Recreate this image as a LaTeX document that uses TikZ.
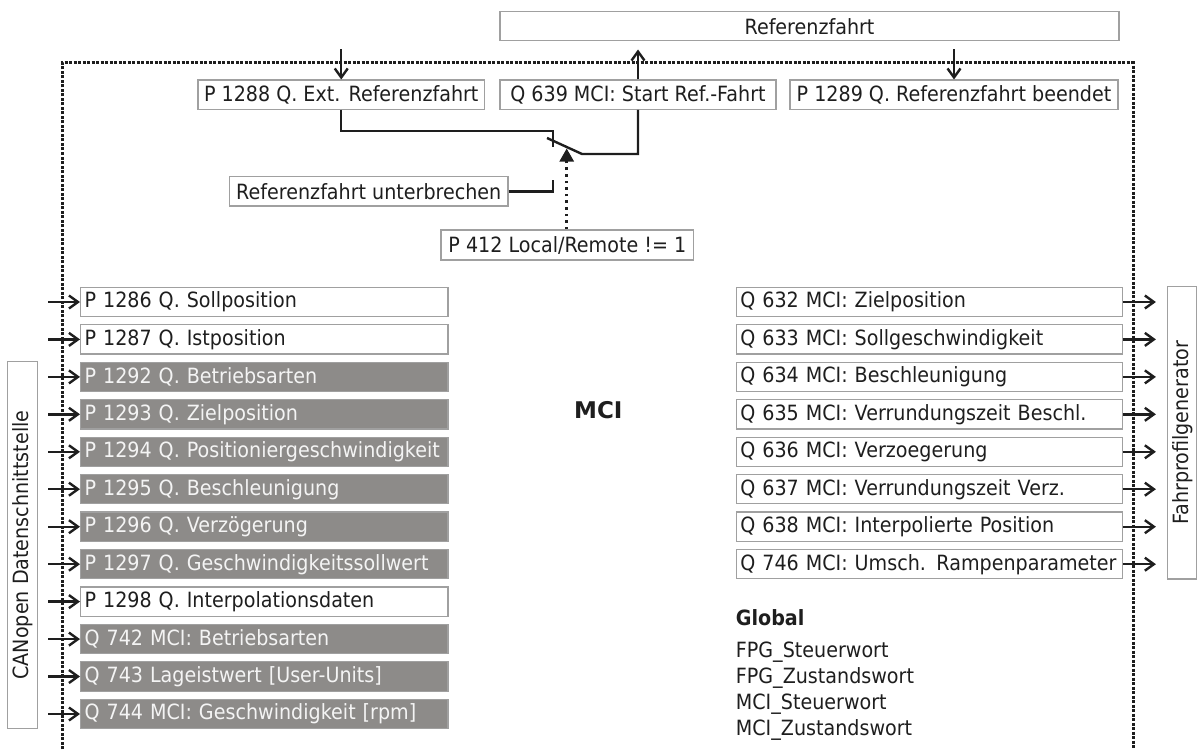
\documentclass[tikz,border=0pt]{standalone}
\usepackage{fontspec}
\setmainfont[FakeStretch=0.91]{DejaVu Sans}
\newfontfamily\mcifont{DejaVu Sans}
\usetikzlibrary{arrows.meta}
\definecolor{ink}{RGB}{30,30,30}
\definecolor{boxline}{RGB}{160,160,160}
\definecolor{boxgray}{RGB}{141,139,137}
\definecolor{boxtext}{RGB}{244,244,244}

\begin{document}
\begin{tikzpicture}[x=1pt,y=-1pt,
  font=\fontsize{21}{26}\selectfont, text=ink,
  box/.style={draw=boxline,line width=1.2pt,inner xsep=4pt,inner ysep=0pt,minimum height=29.3pt},
  inbox/.style={box,anchor=west,text width=359.3pt,align=left},
  outbox/.style={box,anchor=west,text width=378pt,align=left},
  darkfill/.style={fill=boxgray,text=boxtext},
  wire/.style={draw=ink,line width=2.4pt},
  sig/.style={wire,-{Straight Barb[length=9pt,width=13pt]}},
  ctrl/.style={draw=ink,line width=2.6pt,dash pattern=on 2.6pt off 4pt,-{Triangle[length=13pt,width=14pt]}},
  frame/.style={draw=ink,line width=3pt,dash pattern=on 3pt off 1.5pt}]
\useasboundingbox (0,0) rectangle (1198,749);

\draw[frame] (62,749) -- (62,63) -- (1133,63) -- (1133,749);

\node[box,minimum width=619pt,minimum height=29pt] (ref) at (809.5,26.2) {Referenzfahrt};
\node[box,minimum width=286.5pt] (p1288) at (341.25,94.75) {P 1288 Q. Ext. Referenzfahrt};
\node[box,minimum width=276pt] (q639) at (638,94.75) {Q 639 MCI: Start Ref.-Fahrt};
\node[box,minimum width=328pt] (p1289) at (954,94.75) {P 1289 Q. Referenzfahrt beendet};
\node[box,minimum width=278.4pt] (stop) at (368.8,191.35) {Referenzfahrt unterbrechen};
\node[box,minimum width=252.7pt,minimum height=30pt] (p412) at (567.35,245) {P 412 Local/Remote != 1};

\draw[sig] ([yshift=30pt]p1288.north) -- (p1288.north);
\draw[sig] (q639.north) -- ++(0,-30);
\draw[sig] ([yshift=30pt]p1289.north) -- (p1289.north);

% switch
\coordinate (swa) at (553,131);
\coordinate (swc) at (547,138);
\coordinate (swb) at (582,154);
\coordinate (swt) at (566.7,148.5);
\coordinate (swd) at (553,180);
\draw[wire] (p1288.south) |- (swa) -- ++(0,16);
\draw[wire] (swc) -- (swb) -| (q639.south);
\draw[wire] (stop.east) -| (swd);
\draw[ctrl] (swt |- p412.north) -- (swt);

\node[box,rotate=90,minimum width=366.6pt,minimum height=30pt] (canopen) at (22.3,545) {CANopen Datenschnittstelle};
\node[box,rotate=90,minimum width=292.3pt,minimum height=29pt] (fpg) at (1182.2,432.9) {Fahrprofilgenerator};

\node[inbox] (p1286) at (80,302.0) {P 1286 Q. Sollposition};
\node[inbox] (p1287) at (80,339.4) {P 1287 Q. Istposition};
\node[inbox,darkfill] (p1292) at (80,376.9) {P 1292 Q. Betriebsarten};
\node[inbox,darkfill] (p1293) at (80,414.3) {P 1293 Q. Zielposition};
\node[inbox,darkfill] (p1294) at (80,451.8) {P 1294 Q. Positioniergeschwindigkeit};
\node[inbox,darkfill] (p1295) at (80,489.2) {P 1295 Q. Beschleunigung};
\node[inbox,darkfill] (p1296) at (80,526.7) {P 1296 Q. Verzögerung};
\node[inbox,darkfill] (p1297) at (80,564.2) {P 1297 Q. Geschwindigkeitssollwert};
\node[inbox] (p1298) at (80,601.6) {P 1298 Q. Interpolationsdaten};
\node[inbox,darkfill] (q742) at (80,639.1) {Q 742 MCI: Betriebsarten};
\node[inbox,darkfill] (q743) at (80,676.5) {Q 743 Lageistwert [User-Units]};
\node[inbox,darkfill] (q744) at (80,714.0) {Q 744 MCI: Geschwindigkeit [rpm]};

\node[outbox] (q632) at (735.7,302.0) {Q 632 MCI: Zielposition};
\node[outbox] (q633) at (735.7,339.4) {Q 633 MCI: Sollgeschwindigkeit};
\node[outbox] (q634) at (735.7,376.9) {Q 634 MCI: Beschleunigung};
\node[outbox] (q635) at (735.7,414.3) {Q 635 MCI: Verrundungszeit Beschl.};
\node[outbox] (q636) at (735.7,451.8) {Q 636 MCI: Verzoegerung};
\node[outbox] (q637) at (735.7,489.2) {Q 637 MCI: Verrundungszeit Verz.};
\node[outbox] (q638) at (735.7,526.7) {Q 638 MCI: Interpolierte Position};
\node[outbox] (q746) at (735.7,564.2) {Q 746 MCI: Umsch. Rampenparameter};

\foreach \n in {p1286,p1287,p1292,p1293,p1294,p1295,p1296,p1297,p1298,q742,q743,q744}
  \draw[sig] ([xshift=-32pt]\n.west) -- (\n.west);
\foreach \n in {q632,q633,q634,q635,q636,q637,q638,q746}
  \draw[sig] (\n.east) -- ++(33,0);

\node[font=\mcifont\bfseries\fontsize{23}{27}\selectfont,anchor=base] (mci) at (598.3,418.3) {MCI};
\node[font=\fontsize{21}{26}\selectfont\bfseries,anchor=base west,inner sep=0pt] (global) at (735.7,625) {Global};
\node[anchor=north west,inner sep=0pt,align=left] (globals) at (735.7,641.4)
  {FPG\_Steuerwort\\FPG\_Zustandswort\\MCI\_Steuerwort\\MCI\_Zustandswort};
\end{tikzpicture}
\end{document}
